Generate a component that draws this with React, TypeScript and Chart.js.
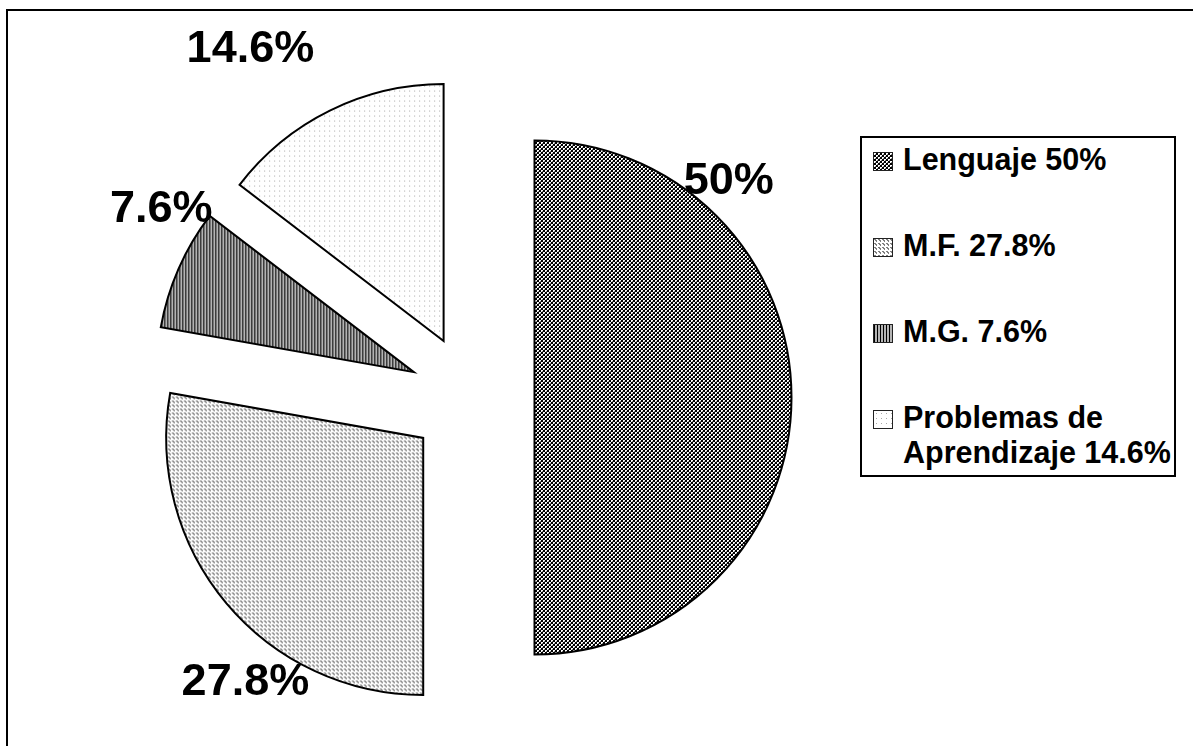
import { useEffect, useMemo, useRef } from "react";
import { Chart, registerables } from "chart.js";

Chart.register(...registerables);

// ---- data ----
const categories = ["Lenguaje", "M.F.", "M.G.", "Problemas de Aprendizaje"];
const percentages = [50, 27.8, 7.6, 14.6];
const sliceLabels = ["50%", "27.8%", "7.6%", "14.6%"];
const legendLines = [["Lenguaje 50%"], ["M.F. 27.8%"], ["M.G. 7.6%"], ["Problemas de", "Aprendizaje 14.6%"]];

// ---- geometry / styling ----
const EXPLODE = 63; // px each slice is pulled out from the centre
const PIE_RADIUS = 257;
// Percentage label placement: angle clockwise from 12 o'clock (deg) and
// distance from the slice apex as a multiple of the radius.
const LABEL_ANGLE = [42, 216, 302.7, 326.5];
const LABEL_DIST = [1.13, 1.177, 1.168, 1.362];
const LEGEND_BASELINES = [170, 256, 342, 428];
const FONT = '"Liberation Sans", Arial, sans-serif';

// Fill patterns (one pixel per entry)
const K = "#000000";
const W = "#ffffff";
const G = "#808080";
const S = "#b4b4b4";
const D = "#a8a8a8";
const TILE_ROWS: string[][][] = [
  [
    [W, W, K, K],
    [W, G, K, K],
    [K, K, W, W],
    [K, K, W, G],
  ],
  [
    [G, G, W, W],
    [W, G, G, W],
    [W, W, G, W],
    [W, W, W, W],
  ],
  [[K, S, S]],
  [
    [W, W, W, W, W],
    [W, W, W, W, W],
    [W, W, D, W, W],
    [W, W, W, W, W],
    [W, W, W, W, W],
  ],
];

function buildTile(rows: string[][]): HTMLCanvasElement {
  const c = document.createElement("canvas");
  c.height = rows.length;
  c.width = rows[0].length;
  const ctx = c.getContext("2d")!;
  rows.forEach((row, y) =>
    row.forEach((col, x) => {
      ctx.fillStyle = col;
      ctx.fillRect(x, y, 1, 1);
    })
  );
  return c;
}

export default function App() {
  const canvasRef = useRef<HTMLCanvasElement>(null);
  const swatchUrls = useMemo(() => TILE_ROWS.map((r) => buildTile(r).toDataURL()), []);

  useEffect(() => {
    const canvas = canvasRef.current!;
    const ctx = canvas.getContext("2d")!;
    const patterns = TILE_ROWS.map((r) => ctx.createPattern(buildTile(r), "repeat")!);

    // Draws each arc shifted outward along its bisector.
    const explodePlugin = {
      id: "explodedSlices",
      beforeDatasetDraw(chart: any, args: any) {
        const c = chart.ctx as CanvasRenderingContext2D;
        args.meta.data.forEach((arc: any) => {
          const mid = (arc.startAngle + arc.endAngle) / 2;
          c.save();
          c.translate(Math.cos(mid) * EXPLODE, Math.sin(mid) * EXPLODE);
          arc.draw(c, chart.chartArea);
          c.restore();
        });
        return false;
      },
    };

    const labelPlugin = {
      id: "sliceLabels",
      afterDatasetsDraw(chart: any) {
        const c = chart.ctx as CanvasRenderingContext2D;
        const meta = chart.getDatasetMeta(0);
        c.save();
        c.font = `bold 45px ${FONT}`;
        c.fillStyle = "#000";
        c.textAlign = "center";
        c.textBaseline = "middle";
        meta.data.forEach((arc: any, i: number) => {
          const mid = (arc.startAngle + arc.endAngle) / 2;
          const ax = arc.x + Math.cos(mid) * EXPLODE;
          const ay = arc.y + Math.sin(mid) * EXPLODE;
          const a = ((LABEL_ANGLE[i] - 90) * Math.PI) / 180;
          const r = arc.outerRadius * LABEL_DIST[i];
          c.fillText(sliceLabels[i], ax + Math.cos(a) * r, ay + Math.sin(a) * r);
        });
        c.restore();
      },
    };

    const chart = new Chart(canvas, {
      type: "pie",
      data: {
        labels: categories,
        datasets: [
          {
            data: percentages,
            backgroundColor: patterns,
            borderColor: "#000",
            borderWidth: 2,
            borderJoinStyle: "miter",
            hoverOffset: 0,
          } as any,
        ],
      },
      options: {
        responsive: false,
        animation: false,
        events: [],
        radius: PIE_RADIUS,
        layout: { padding: { left: 0, right: 250, top: 49, bottom: 0 } },
        plugins: { legend: { display: false }, tooltip: { enabled: false } },
      } as any,
      plugins: [explodePlugin, labelPlugin],
    });
    return () => chart.destroy();
  }, []);

  return (
    <div
      style={{
        position: "fixed",
        left: 0,
        top: 0,
        width: 1193,
        height: 746,
        overflow: "hidden",
        background: "#fff",
      }}
    >
      <div
        style={{
          position: "absolute",
          left: 6,
          top: 9,
          width: 1400,
          height: 1000,
          border: "2px solid #000",
        }}
      />
      <canvas
        ref={canvasRef}
        width={1193}
        height={746}
        style={{ position: "absolute", left: 0, top: 0, display: "block" }}
      />
      <div
        style={{
          position: "absolute",
          left: 860,
          top: 136,
          width: 316,
          height: 341,
          boxSizing: "border-box",
          border: "2px solid #000",
          background: "#fff",
        }}
      />
      {legendLines.map((lines, i) => (
        <div key={categories[i]}>
          <div
            style={{
              position: "absolute",
              left: 873,
              top: LEGEND_BASELINES[i] - 18,
              width: 20,
              height: 19,
              boxSizing: "border-box",
              border: "1px solid #222",
              backgroundImage: `url(${swatchUrls[i]})`,
              imageRendering: "pixelated",
            }}
          />
          <div
            style={{
              position: "absolute",
              left: 903,
              top: LEGEND_BASELINES[i] - 28,
              font: `bold 30.5px ${FONT}`,
              lineHeight: "35px",
              whiteSpace: "nowrap",
              color: "#000",
            }}
          >
            {lines.map((t) => (
              <div key={t}>{t}</div>
            ))}
          </div>
        </div>
      ))}
    </div>
  );
}
